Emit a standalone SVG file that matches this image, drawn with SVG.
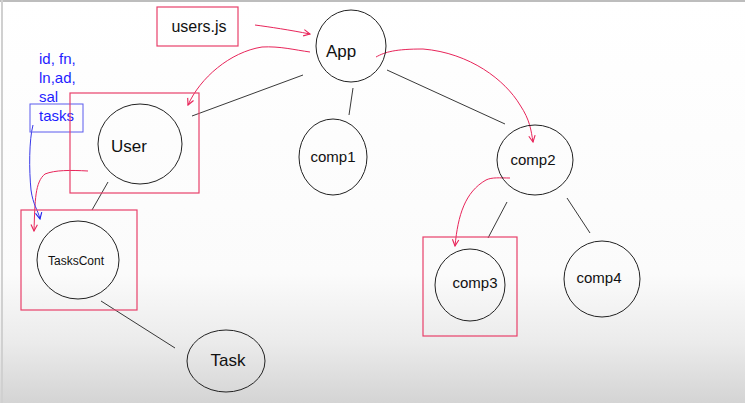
<svg xmlns="http://www.w3.org/2000/svg" width="745" height="403" viewBox="0 0 745 403">
<defs>
<linearGradient id="bg" x1="0" y1="0" x2="0" y2="1">
<stop offset="0" stop-color="#ffffff"/>
<stop offset="0.68" stop-color="#fbfbfb"/>
<stop offset="0.85" stop-color="#ebebeb"/>
<stop offset="1" stop-color="#d4d4d4"/>
</linearGradient>
<marker id="ar" viewBox="0 0 10 10" refX="9" refY="5" markerWidth="8" markerHeight="8" orient="auto" markerUnits="userSpaceOnUse">
<path d="M1,1 L9,5 L1,9" fill="none" stroke="#e8255a" stroke-width="1.4"/>
</marker>
<marker id="ab" viewBox="0 0 10 10" refX="9" refY="5" markerWidth="8" markerHeight="8" orient="auto" markerUnits="userSpaceOnUse">
<path d="M1,1 L9,5 L1,9" fill="none" stroke="#2222ee" stroke-width="1.4"/>
</marker>
</defs>
<style>
.c{fill:none;stroke:#222;stroke-width:1}
.rb{fill:none;stroke:#e8406a;stroke-width:1.2}
.t{font-family:"Liberation Sans",Arial,sans-serif;fill:#111;text-anchor:middle}
.ln{stroke:#222;stroke-width:0.9;fill:none}
.rc{stroke:#e8255a;stroke-width:1;fill:none}
.bt{font-family:"Liberation Sans",Arial,sans-serif;fill:#1d1dff;font-size:15px}
</style>
<rect x="0" y="0" width="745" height="403" fill="url(#bg)"/>
<line x1="0" y1="1" x2="745" y2="1" stroke="#bdbdbd" stroke-width="2"/>
<line x1="2" y1="0" x2="2" y2="403" stroke="#d0d0d0" stroke-width="2"/>

<g id="connectors">
<line class="ln" x1="192" y1="116" x2="303" y2="75"/>
<line class="ln" x1="353" y1="88" x2="349" y2="115"/>
<line class="ln" x1="387" y1="70" x2="505" y2="124"/>
<line class="ln" x1="507" y1="202" x2="488" y2="238"/>
<line class="ln" x1="567" y1="198" x2="590" y2="233"/>
<line class="ln" x1="108" y1="182" x2="92" y2="210"/>
<line class="ln" x1="101" y1="301" x2="175" y2="348"/>
<path class="rc" d="M255,25 C270,27 290,30 310,34" marker-end="url(#ar)"/>
<path class="rc" d="M310,52 C295,50 280,46 262,47 C230,52 200,78 188,105" marker-end="url(#ar)"/>
<path class="rc" d="M376,57 C385,52 395,49 423,49 C470,53 505,80 520,105 C530,120 531,130 533,142" marker-end="url(#ar)"/>
<path class="rc" d="M510,178 C500,178 492,177 486,180 C465,192 458,215 455,246" marker-end="url(#ar)"/>
<path class="rc" d="M88,171 C70,170 55,170 45,174 C35,182 35,200 34,231" marker-end="url(#ar)"/>
<path d="M33,125 C29,140 29,170 31,190 C33,205 38,210 40,219" stroke="#3838e8" stroke-width="1" fill="none" marker-end="url(#ab)"/>
</g>

<g id="usersjs">
<rect class="rb" x="157" y="7" width="81" height="39"/>
<text class="t" x="199" y="32" font-size="16">users.js</text>
</g>

<g id="app">
<ellipse class="c" cx="351" cy="46" rx="35" ry="36"/>
<text class="t" x="341" y="57" font-size="17">App</text>
</g>

<g id="props">
<text class="bt" x="39" y="64">id, fn,</text>
<text class="bt" x="39" y="83">ln,ad,</text>
<text class="bt" x="39" y="102">sal</text>
<text class="bt" x="39" y="121">tasks</text>
<rect x="30" y="104" width="53" height="28" fill="none" stroke="#5a5aee" stroke-width="1"/>
</g>

<g id="user">
<rect class="rb" x="70" y="93" width="129" height="100"/>
<ellipse class="c" cx="140" cy="144" rx="42" ry="40"/>
<text class="t" x="129" y="152" font-size="17">User</text>
</g>

<g id="comp1">
<ellipse class="c" cx="333" cy="157" rx="34" ry="38"/>
<text class="t" x="333" y="162" font-size="15">comp1</text>
</g>

<g id="comp2">
<ellipse class="c" cx="535" cy="160" rx="38" ry="35"/>
<text class="t" x="533" y="165" font-size="15">comp2</text>
</g>

<g id="comp3">
<rect class="rb" x="423" y="237" width="94" height="99"/>
<ellipse class="c" cx="470" cy="285" rx="35" ry="36"/>
<text class="t" x="475" y="288" font-size="15">comp3</text>
</g>

<g id="comp4">
<ellipse class="c" cx="602" cy="279" rx="38" ry="38"/>
<text class="t" x="599" y="283" font-size="15">comp4</text>
</g>

<g id="taskscont">
<rect class="rb" x="21" y="210" width="116" height="100"/>
<ellipse class="c" cx="78" cy="260" rx="41" ry="39"/>
<text class="t" x="76" y="265" font-size="12">TasksCont</text>
</g>

<g id="task">
<ellipse class="c" cx="226" cy="361" rx="39" ry="31"/>
<text class="t" x="228" y="366" font-size="17">Task</text>
</g>
</svg>
